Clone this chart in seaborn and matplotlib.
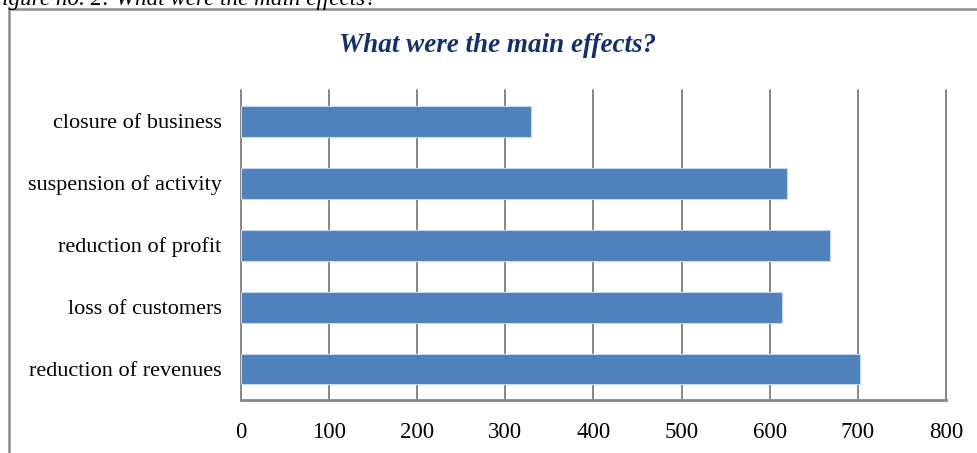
import pandas as pd
import seaborn as sns
import matplotlib.pyplot as plt
from matplotlib.patches import Rectangle

# values
effects = ["closure of business", "suspension of activity", "reduction of profit",
           "loss of customers", "reduction of revenues"]
counts = [329, 620, 668, 614, 702]
x_ticks = [0, 100, 200, 300, 400, 500, 600, 700, 800]

df = pd.DataFrame({"effect": effects, "count": counts})

sns.set_style("white")
plt.rcParams["font.family"] = ["Liberation Serif", "DejaVu Serif"]
plt.rcParams["text.color"] = "black"
plt.rcParams["xtick.color"] = "black"
plt.rcParams["ytick.color"] = "black"

fig = plt.figure(figsize=(9.78, 4.53), dpi=100)
ax = fig.add_axes([0.2464, 0.117, 0.7209, 0.6843])

sns.barplot(data=df, x="count", y="effect", color="#4F81BD", width=0.5,
            edgecolor="#C6D5EA", linewidth=0.8, saturation=1, ax=ax, zorder=3)

ax.set_xlim(0, 800)
ax.set_xticks(x_ticks)
ax.set_xticklabels([str(t) for t in x_ticks], fontsize=16.5)
ax.tick_params(axis="x", length=0, pad=16)
ax.tick_params(axis="y", length=0, pad=14, labelsize=16)
ax.xaxis.grid(True, color="#868686", linewidth=1.4)
for gl in ax.get_xgridlines():
    gl.set_clip_on(False)
ax.set_axisbelow(True)
ax.set_xlabel("")
ax.set_ylabel("")
for side in ["top", "right", "left"]:
    ax.spines[side].set_visible(False)
ax.spines["bottom"].set_color("#868686")
ax.spines["bottom"].set_linewidth(2)

fig.text(498 / 978, 1 - 46 / 453, "What were the main effects?", fontsize=19.5,
         fontweight="bold", fontstyle="italic", color="#14306B",
         ha="center", va="center")

# outer frame of the chart area, cut off by the crop
fig.patches.append(Rectangle((9 / 978, -0.05), 1.2, 1 - 9 / 453 + 0.05,
                             transform=fig.transFigure, fill=False,
                             edgecolor="#8C8C8C", linewidth=1.8))
# caption from the document, mostly cut off at the top
fig.text(-0.012, 1 - 5 / 453, "Figure no. 2: What were the main effects?", fontsize=16.7,
         fontstyle="italic", ha="left", va="baseline")

fig.savefig("out.png", dpi=100)
